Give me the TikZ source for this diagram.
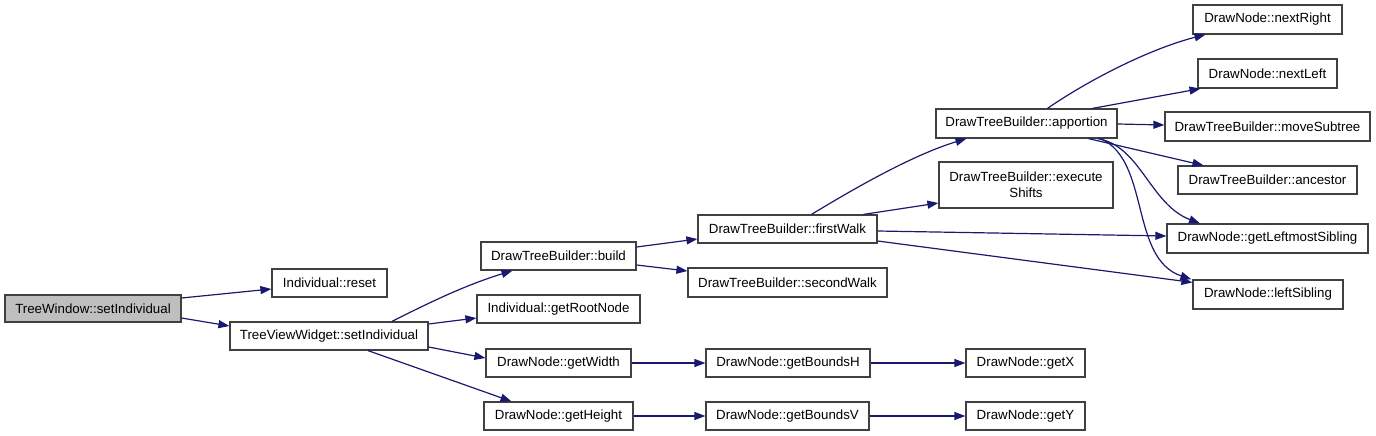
\documentclass[tikz,border=0pt]{standalone}
\usepackage{fontspec}
\setmainfont{Liberation Sans}
\usetikzlibrary{arrows.meta,calc}
\definecolor{edgec}{HTML}{191970}
\definecolor{boxc}{HTML}{404040}
\definecolor{rootfill}{HTML}{BFBFBF}
\begin{document}
\begin{tikzpicture}[x=1pt,y=-1pt,
  box/.style={draw=boxc,line width=1.2pt,fill=white,rectangle,inner sep=0pt,
    font=\fontsize{13.3}{16}\selectfont,align=center,text=black},
  edge/.style={draw=edgec,line width=1.2pt,-{Triangle[length=11pt,width=8pt]}}]
\useasboundingbox (0,0) rectangle (1376,436);
% nodes
\node[box,fill=rootfill,minimum width=176pt,minimum height=27pt] (tw) at (93,308.5) {TreeWindow::setIndividual};
\node[box,minimum width=115pt,minimum height=28pt] (reset) at (329.5,283) {Individual::reset};
\node[box,minimum width=198pt,minimum height=28pt] (tvw) at (329,336) {TreeViewWidget::setIndividual};
\node[box,minimum width=155pt,minimum height=28pt] (build) at (558.5,256) {DrawTreeBuilder::build};
\node[box,minimum width=163pt,minimum height=28pt] (root) at (558.5,309) {Individual::getRootNode};
\node[box,minimum width=145pt,minimum height=28pt] (gw) at (558.5,363) {DrawNode::getWidth};
\node[box,minimum width=149pt,minimum height=28pt] (gh) at (558.5,416) {DrawNode::getHeight};
\node[box,minimum width=179pt,minimum height=28pt] (fw) at (787.5,229) {DrawTreeBuilder::firstWalk};
\node[box,minimum width=199pt,minimum height=29pt] (sw) at (787.5,282.5) {DrawTreeBuilder::secondWalk};
\node[box,minimum width=164pt,minimum height=28pt] (bh) at (788,363) {DrawNode::getBoundsH};
\node[box,minimum width=163pt,minimum height=28pt] (bv) at (787.5,416) {DrawNode::getBoundsV};
\node[box,minimum width=119pt,minimum height=28pt] (gx) at (1025.5,363) {DrawNode::getX};
\node[box,minimum width=119pt,minimum height=28pt] (gy) at (1025.5,416) {DrawNode::getY};
\node[box,minimum width=181pt,minimum height=29pt] (ap) at (1026.5,123.5) {DrawTreeBuilder::apportion};
\node[box,minimum width=174pt,minimum height=46pt] (es) at (1026,185) {DrawTreeBuilder::execute\\Shifts};
\node[box,minimum width=205pt,minimum height=29pt] (ms) at (1267.5,126.5) {DrawTreeBuilder::moveSubtree};
\node[box,minimum width=179pt,minimum height=28pt] (an) at (1267.5,180) {DrawTreeBuilder::ancestor};
\node[box,minimum width=201pt,minimum height=29pt] (gls) at (1267.5,238.5) {DrawNode::getLeftmostSibling};
\node[box,minimum width=150pt,minimum height=29pt] (ls) at (1268,294.5) {DrawNode::leftSibling};
\node[box,minimum width=149pt,minimum height=29pt] (nr) at (1267.5,19.5) {DrawNode::nextRight};
\node[box,minimum width=139pt,minimum height=29pt] (nl) at (1267.5,73.5) {DrawNode::nextLeft};
% edges
\draw[edge] ([yshift=10.5pt]tw.east) -- ([yshift=-6pt]reset.west);
\draw[edge] ([yshift=-9.5pt]tw.east) -- ([yshift=10pt]tvw.west);
\draw[edge] ([xshift=63pt]tvw.north) .. controls +(28,-14) and +(-52,16) .. ([xshift=-46pt]build.south);
\draw[edge] ([yshift=12pt]tvw.east) -- ([yshift=-9pt]root.west);
\draw[edge] ([yshift=-11pt]tvw.east) -- ([yshift=5pt]gw.west);
\draw[edge] ([xshift=39pt]tvw.south) -- ([xshift=-47pt]gh.north);
\draw[edge] ([yshift=9pt]build.east) -- ([yshift=-10pt]fw.west);
\draw[edge] ([yshift=-9pt]build.east) -- ([yshift=11.5pt]sw.west);
\draw[edge] ([xshift=24pt]fw.north) .. controls +(38,-23) and +(-56,17) .. ([xshift=-60pt]ap.south);
\draw[edge] ([xshift=76pt]fw.north) -- ([yshift=-18pt]es.west);
\draw[edge] ([yshift=-2pt]fw.east) -- ([yshift=2.5pt]gls.west);
\draw[edge] ([yshift=-12pt]fw.east) -- ([yshift=-3pt]ls.north west);
\draw[edge] ([xshift=21pt]ap.north) .. controls +(42,-29) and +(-55,14) .. ([xshift=-62pt]nr.south);
\draw[edge] ([xshift=66pt]ap.north) -- ([xshift=-67pt]nl.south);
\draw[edge] ([yshift=-0.5pt]ap.east) -- ([yshift=1.5pt]ms.west);
\draw[edge] ([xshift=62pt]ap.south) -- ([xshift=-64pt]an.north);
\draw[edge] ([xshift=71pt]ap.south) .. controls +(43,7) and +(-50,-19) .. ([xshift=-67.5pt]gls.north);
\draw[edge] ([xshift=74pt]ap.south) .. controls +(50,22) and +(-62,-21) .. ([xshift=-1pt]ls.north west);
\draw[edge] (gw.east) -- (bh.west);
\draw[edge] (gh.east) -- (bv.west);
\draw[edge] (bh.east) -- (gx.west);
\draw[edge] (bv.east) -- (gy.west);
\end{tikzpicture}
\end{document}
